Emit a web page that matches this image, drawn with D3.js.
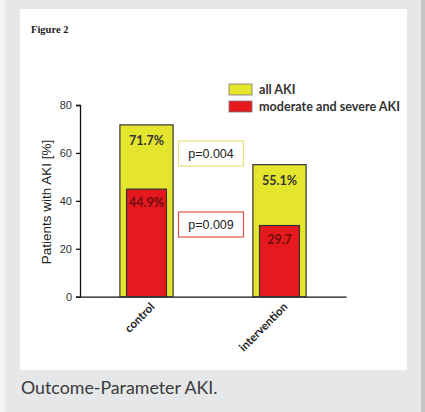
<!DOCTYPE html>
<html>
<head>
<meta charset="utf-8">
<script src="https://cdn.jsdelivr.net/npm/d3@7/dist/d3.min.js"></script>
<style>
  html, body { margin: 0; padding: 0; background: #f3f3f3; }
  svg { display: block; }
</style>
</head>
<body>
<svg id="chart" width="425" height="412"></svg>
<script>
// Groups and values (% of patients with AKI)
const groups = ["control", "intervention"];
const allAKI = [71.7, 55.1];
const moderateSevereAKI = [44.9, 29.7];
const allAKILabels = ["71.7%", "55.1%"];
const moderateSevereLabels = ["44.9%", "29.7"];
const yTicks = [0, 20, 40, 60, 80];
const pValues = ["p=0.004", "p=0.009"];
const legendLabels = ["all AKI", "moderate and severe AKI"];

const YELLOW = "#e6e52e";
const RED = "#e6191f";

const svg = d3.select("#chart");

// page frame
svg.append("rect").attr("x", 5).attr("y", 0).attr("width", 416).attr("height", 412).attr("fill", "#e6e7e8");
svg.append("rect").attr("x", 421).attr("y", 0).attr("width", 4).attr("height", 412).attr("fill", "#c4c4c4");
svg.append("rect").attr("x", 20).attr("y", 9).attr("width", 387).attr("height", 361).attr("fill", "#ffffff");

svg.append("text").attr("x", 31).attr("y", 33)
  .attr("font-family", "Liberation Serif, serif").attr("font-weight", "bold")
  .attr("font-size", 10.5).attr("fill", "#222").text("Figure 2");

svg.append("text").attr("x", 21).attr("y", 394)
  .attr("font-family", "Lato, sans-serif").attr("font-size", 17.8)
  .attr("fill", "#3a3a3a").text("Outcome-Parameter AKI.");

// scales
const x = d3.scaleBand().domain(groups).range([80, 346]).paddingInner(0.6).paddingOuter(0.3);
const y = d3.scaleLinear().domain([0, 80]).range([296.7, 105]);

const g = svg.append("g");

// y axis
const yAxis = g.append("g").attr("transform", "translate(80,0)")
  .call(d3.axisLeft(y).tickValues(yTicks).tickSize(4).tickPadding(4));
yAxis.select(".domain").attr("stroke", "#111").attr("stroke-width", 1.3);
yAxis.selectAll(".tick line").attr("stroke", "#111").attr("stroke-width", 1.3);
yAxis.selectAll(".tick text").attr("font-family", "Liberation Sans, Arial, sans-serif")
  .attr("font-size", 11).attr("fill", "#333");

// x axis
const xAxis = g.append("g").attr("transform", `translate(0,${y(0)})`)
  .call(d3.axisBottom(x).tickSize(0).tickSizeOuter(0));
xAxis.select(".domain").attr("stroke", "#111").attr("stroke-width", 1.3);
xAxis.selectAll(".tick text")
  .attr("font-family", "Lato, sans-serif").attr("font-weight", "bold")
  .attr("font-size", 11.5).attr("fill", "#222")
  .attr("text-anchor", "end")
  .attr("transform", "translate(1,3) rotate(-45)")
  .attr("dy", "0.7em").attr("dx", "0");

// y label
svg.append("text")
  .attr("transform", "translate(51,202) rotate(-90)")
  .attr("text-anchor", "middle")
  .attr("font-family", "Liberation Sans, Arial, sans-serif")
  .attr("font-size", 13.5).attr("fill", "#222")
  .text("Patients with AKI [%]");

// bars
const outerW = x.bandwidth();
const innerW = outerW * 0.75;
g.selectAll("rect.all").data(groups).join("rect")
  .attr("class", "all")
  .attr("x", d => x(d))
  .attr("y", (d, i) => y(allAKI[i]))
  .attr("width", outerW)
  .attr("height", (d, i) => y(0) - y(allAKI[i]))
  .attr("fill", YELLOW).attr("stroke", "#333").attr("stroke-width", 1.2);

g.selectAll("rect.mod").data(groups).join("rect")
  .attr("class", "mod")
  .attr("x", d => x(d) + (outerW - innerW) / 2)
  .attr("y", (d, i) => y(moderateSevereAKI[i]))
  .attr("width", innerW)
  .attr("height", (d, i) => y(0) - y(moderateSevereAKI[i]))
  .attr("fill", RED).attr("stroke", "#333").attr("stroke-width", 1.2);

g.selectAll("text.allLbl").data(groups).join("text")
  .attr("x", d => x(d) + outerW / 2)
  .attr("y", (d, i) => y(allAKI[i]) + 20)
  .attr("text-anchor", "middle")
  .attr("font-family", "Lato, sans-serif").attr("font-weight", "bold")
  .attr("font-size", 12.5).attr("fill", "#333")
  .text((d, i) => allAKILabels[i]);

g.selectAll("text.modLbl").data(groups).join("text")
  .attr("x", d => x(d) + outerW / 2)
  .attr("y", (d, i) => y(moderateSevereAKI[i]) + 18)
  .attr("text-anchor", "middle")
  .attr("font-family", "Lato, sans-serif").attr("font-weight", "bold")
  .attr("font-size", 12.5).attr("fill", "#6e0c0c")
  .text((d, i) => moderateSevereLabels[i]);

// p-value boxes
const pBoxes = [
  { y0: 141, stroke: "#e8df7a" },
  { y0: 212, stroke: "#e0504a" }
];
pBoxes.forEach((b, i) => {
  svg.append("rect").attr("x", 178.5).attr("y", b.y0).attr("width", 65).attr("height", 25)
    .attr("fill", "#fff").attr("stroke", b.stroke).attr("stroke-width", 1.2);
  svg.append("text").attr("x", 211).attr("y", b.y0 + 17)
    .attr("text-anchor", "middle")
    .attr("font-family", "Liberation Sans, Arial, sans-serif")
    .attr("font-size", 12.5).attr("fill", "#222").text(pValues[i]);
});

// legend
const legendColors = [YELLOW, RED];
legendLabels.forEach((lbl, i) => {
  const ly = 84 + i * 17;
  svg.append("rect").attr("x", 229).attr("y", ly).attr("width", 23).attr("height", 11)
    .attr("fill", legendColors[i]).attr("stroke", "#777").attr("stroke-width", 0.8);
  svg.append("text").attr("x", 259).attr("y", ly + 10)
    .attr("font-family", "Lato, sans-serif").attr("font-weight", "bold")
    .attr("font-size", 12.6).attr("fill", "#333").text(lbl);
});
</script>
</body>
</html>
